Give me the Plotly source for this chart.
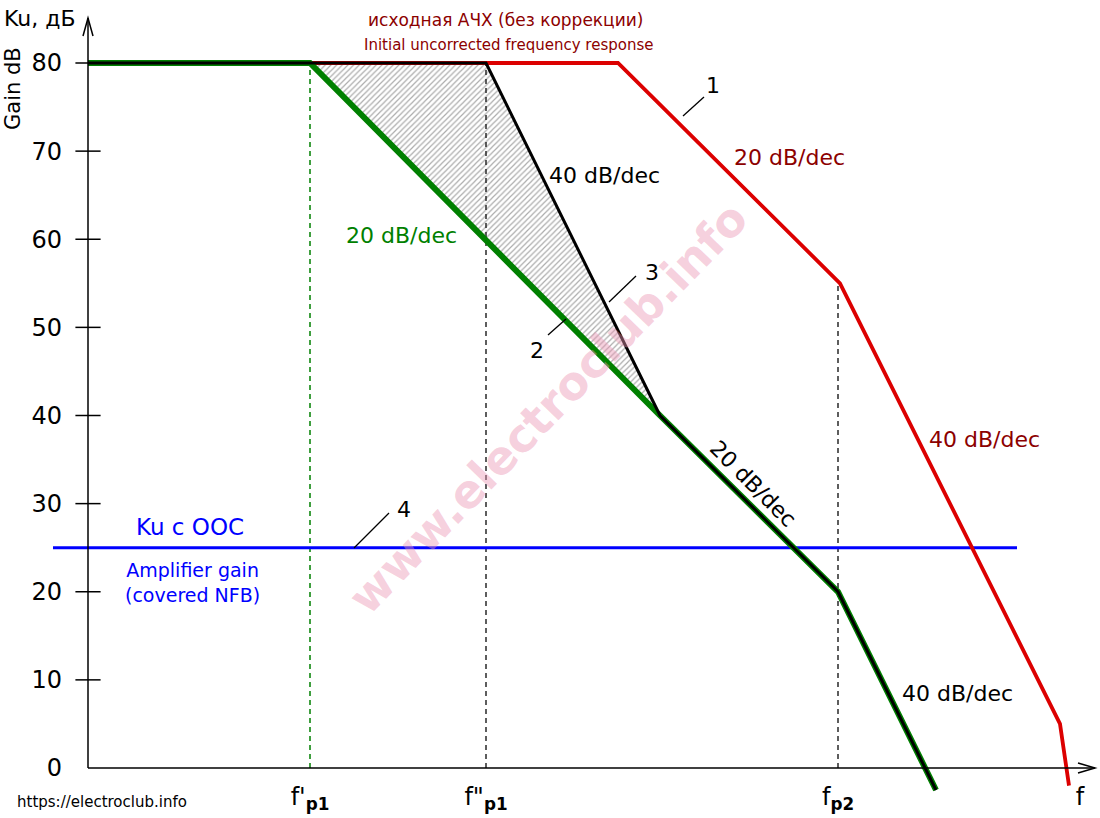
import plotly.graph_objects as go

FONT = "DejaVu Sans"

# ---- data (x = position on log-frequency axis, arbitrary units; y = gain, dB) ----
freq_red = [0, 530, 752, 972, 981]
gain_red = [80, 80, 55, 5, -2]

freq_black = [0, 398, 572, 750, 848]
gain_black = [80, 80, 40, 20, -2.5]

freq_green = [0, 222, 572, 750, 848]
gain_green = [80, 80, 40, 20, -2.5]

freq_nfb = [-35, 929]
gain_nfb = [25, 25]

hatch_x = [222, 398, 572, 222]
hatch_y = [80, 80, 40, 80]

fp_x = [222, 398, 750]
fp_top = [80, 80, 55]
fp_color = ["rgb(0,128,0)", "rgb(40,40,40)", "rgb(40,40,40)"]

y_ticks = [0, 10, 20, 30, 40, 50, 60, 70, 80]
x_tickvals = [222, 398, 750, 992]
x_ticktext = ["f'<sub><b>p1</b></sub>", "f\"<sub><b>p1</b></sub>", "f<sub><b>p2</b></sub>", "f"]

X_RANGE = [-88, 1012]
Y_RANGE = [-5.674, 87.149]
Y_TOP = 85.1
X_END = 1007

fig = go.Figure()

# hatched region between curves 2 and 3
fig.add_trace(go.Scatter(
    x=hatch_x, y=hatch_y, mode="lines", fill="toself",
    fillcolor="rgba(255,255,255,0)",
    fillpattern=dict(shape="/", fgcolor="rgb(90,90,90)", bgcolor="white", size=4, solidity=0.3),
    line=dict(color="rgb(30,30,30)", width=1, dash="dot"),
    hoverinfo="skip", showlegend=False))

# dashed verticals at the pole frequencies
for xv, yt, c in zip(fp_x, fp_top, fp_color):
    fig.add_trace(go.Scatter(x=[xv, xv], y=[0, yt], mode="lines",
                             line=dict(color=c, width=1.5, dash="5px,4px"),
                             hoverinfo="skip", showlegend=False))

# amplifier gain with NFB
fig.add_trace(go.Scatter(x=freq_nfb, y=gain_nfb, mode="lines",
                         line=dict(color="rgb(0,0,255)", width=3),
                         hoverinfo="skip", showlegend=False))
# curve 1 (red)
fig.add_trace(go.Scatter(x=freq_red, y=gain_red, mode="lines",
                         line=dict(color="rgb(220,0,0)", width=3.8),
                         hoverinfo="skip", showlegend=False))
# curve 2 (green)
fig.add_trace(go.Scatter(x=freq_green, y=gain_green, mode="lines",
                         line=dict(color="rgb(0,128,0)", width=6),
                         hoverinfo="skip", showlegend=False))
# curve 3 (black)
fig.add_trace(go.Scatter(x=freq_black, y=gain_black, mode="lines",
                         line=dict(color="black", width=3),
                         hoverinfo="skip", showlegend=False))

# y tick marks crossing the axis
fig.add_trace(go.Scatter(x=[0] * (len(y_ticks) - 1), y=y_ticks[1:], mode="markers",
                         marker=dict(symbol="line-ew", size=18,
                                     line=dict(color="black", width=1.5)),
                         hoverinfo="skip", showlegend=False))

# axis lines with open arrowheads
ay = 18 / 8.8125
ax_h = 5 / 8.8125
shapes = [
    dict(type="line", xref="x", yref="y", x0=0, y0=0, x1=0, y1=Y_TOP,
         line=dict(color="black", width=1.5)),
    dict(type="line", xref="x", yref="y", x0=0, y0=0, x1=X_END, y1=0,
         line=dict(color="black", width=1.5)),
    dict(type="path", xref="x", yref="y",
         path=f"M -5,{Y_TOP - ay} L 0,{Y_TOP} L 5,{Y_TOP - ay}",
         line=dict(color="black", width=1.5)),
    dict(type="path", xref="x", yref="y",
         path=f"M {X_END - 17},{ax_h} L {X_END},0 L {X_END - 17},{-ax_h}",
         line=dict(color="black", width=1.5)),
]
# leader lines for curve numbers
leaders = [((595, 73.99), (616, 76.14)),
           ((548, 55.83), (521, 52.88)),
           ((460, 49.13), (478, 50.95)),
           ((301, 28.94), (266, 24.97))]
for (x0, y0), (x1, y1) in leaders:
    shapes.append(dict(type="line", xref="x", yref="y", x0=x0, y0=y0, x1=x1, y1=y1,
                       line=dict(color="black", width=1.3)))

DARKRED = "rgb(140,0,0)"
GREEN = "rgb(0,128,0)"
BLUE = "rgb(0,0,255)"


def ann(x, y, text, size, color="black", angle=0, xanchor="center"):
    return dict(x=x, y=y, xref="x", yref="y", text=text, showarrow=False,
                font=dict(family=FONT, size=size, color=color), textangle=angle,
                xanchor=xanchor, yanchor="middle")


annotations = [
    ann(460, 40.85, "<b>www.electroclub.info</b>", 46, "rgba(236,150,180,0.45)", -46),
    ann(-86, 85.1, "Ku, дБ", 22, xanchor="left"),
    ann(-75, 77.05, "Gain dB", 21, angle=-90),
    ann(417, 84.88, "исходная АЧХ (без коррекции)", 17, DARKRED),
    ann(420, 82.04, "Initial uncorrected frequency response", 15, DARKRED),
    ann(701, 69.33, "20 dB/dec", 22, DARKRED),
    ann(625, 77.4, "1", 22),
    ann(516, 67.29, "40 dB/dec", 22),
    ann(313, 60.37, "20 dB/dec", 22, GREEN),
    ann(564, 56.28, "3", 22),
    ann(449, 47.43, "2", 22),
    ann(316, 29.28, "4", 22),
    ann(665, 32.34, "20 dB/dec", 22, angle=45),
    ann(896, 37.33, "40 dB/dec", 22, DARKRED),
    ann(869, 8.4, "40 dB/dec", 22),
    ann(102, 27.35, "Ku c OOC", 23, BLUE),
    ann(104, 21.1, "Amplifier gain<br>(covered NFB)", 19, BLUE),
    ann(-73, -3.86, "https://electroclub.info", 15, xanchor="left"),
]

fig.update_layout(
    width=1100, height=818,
    margin=dict(l=0, r=0, t=0, b=0, pad=0),
    paper_bgcolor="white", plot_bgcolor="white",
    font=dict(family=FONT, color="black"),
    showlegend=False,
    hovermode=False,
    shapes=shapes,
    annotations=annotations,
    xaxis=dict(range=X_RANGE, anchor="free", position=50 / 818,
               showgrid=False, zeroline=False, showline=False,
               tickmode="array", tickvals=x_tickvals, ticktext=x_ticktext,
               ticks="", tickfont=dict(family=FONT, size=24, color="black"),
               ticklabelstandoff=12, automargin=False, fixedrange=True),
    yaxis=dict(range=Y_RANGE, anchor="free", position=88 / 1100,
               showgrid=False, zeroline=False, showline=False,
               tickmode="array", tickvals=y_ticks,
               ticks="", tickfont=dict(family=FONT, size=24, color="black"),
               ticklabelstandoff=26, automargin=False, fixedrange=True),
)

fig.write_html("out.html")
